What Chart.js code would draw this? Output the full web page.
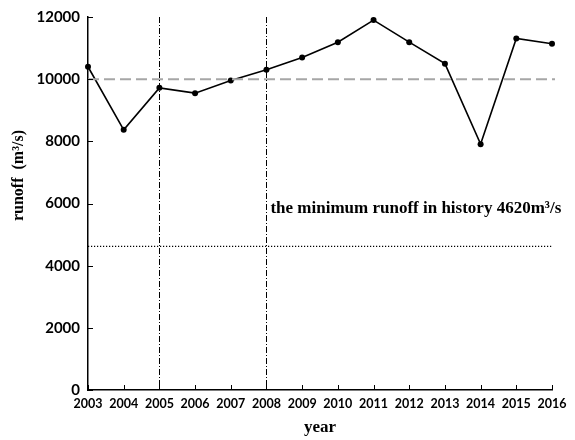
<!DOCTYPE html>
<html>
<head>
<meta charset="utf-8">
<script src="https://cdn.jsdelivr.net/npm/chart.js@4/dist/chart.umd.min.js"></script>
<style>
  html, body { margin: 0; padding: 0; background: #fff; }
  #wrap { width: 575px; height: 440px; }
</style>
</head>
<body>
<div id="wrap"><canvas id="c" width="575" height="440"></canvas></div>
<script>
// Annual runoff series (m³/s)
const years = ['2003','2004','2005','2006','2007','2008','2009','2010','2011','2012','2013','2014','2015','2016'];
const runoff = [10400, 8370, 9720, 9550, 9960, 10300, 10700, 11190, 11900, 11190, 10500, 7910, 11310, 11140];
const yTicks = [0, 2000, 4000, 6000, 8000, 10000, 12000];

// Reference levels and marked years
const meanRunoff = 10000;
const minRunoff = 4620;
const markedYears = ['2005', '2008'];
const minLabel = 'the minimum runoff in history 4620m³/s';
const xTitle = 'year';
const yTitle = 'runoff  (m³/s)';

const tickFont = 'Lato';
const serif = '"Liberation Serif", "Times New Roman", serif';

// Reference lines, inner tick marks and axis titles
const overlay = {
  id: 'overlay',
  afterDatasetsDraw(chart) {
    const { ctx, chartArea: a, scales: { x, y } } = chart;
    ctx.save();

    // long-term mean (grey dashed)
    const ym = y.getPixelForValue(meanRunoff);
    ctx.strokeStyle = '#a6a6a6';
    ctx.lineWidth = 2;
    ctx.setLineDash([11, 5]);
    ctx.beginPath();
    ctx.moveTo(a.left, ym);
    ctx.lineTo(a.right + 3, ym);
    ctx.stroke();

    // historical minimum (dotted)
    const yMin = y.getPixelForValue(minRunoff);
    ctx.strokeStyle = '#000';
    ctx.lineWidth = 1.3;
    ctx.setLineDash([1.2, 1.8]);
    ctx.beginPath();
    ctx.moveTo(a.left, yMin);
    ctx.lineTo(a.right + 1, yMin);
    ctx.stroke();

    // marked years (dash-dot verticals)
    ctx.lineWidth = 1;
    ctx.setLineDash([6, 2, 1, 2]);
    markedYears.forEach(v => {
      const px = Math.round(x.getPixelForValue(years.indexOf(v))) + 0.5;
      ctx.beginPath();
      ctx.moveTo(px, a.top);
      ctx.lineTo(px, a.bottom);
      ctx.stroke();
    });
    ctx.setLineDash([]);

    // inner tick marks
    ctx.lineWidth = 1;
    ctx.strokeStyle = '#000';
    yTicks.forEach(v => {
      const py = Math.round(y.getPixelForValue(v)) + 0.5;
      ctx.beginPath();
      ctx.moveTo(a.left, py);
      ctx.lineTo(a.left + 5, py);
      ctx.stroke();
    });
    years.forEach((v, i) => {
      const px = Math.round(x.getPixelForValue(i)) + 0.5;
      ctx.beginPath();
      ctx.moveTo(px, a.bottom);
      ctx.lineTo(px, a.bottom - 5);
      ctx.stroke();
    });

    // minimum-runoff note
    ctx.fillStyle = '#000';
    ctx.font = 'bold 17px ' + serif;
    ctx.textAlign = 'left';
    ctx.textBaseline = 'alphabetic';
    ctx.fillText(minLabel, x.getPixelForValue(years.indexOf('2008')) + 4, yMin - 33);

    // axis titles
    ctx.font = 'bold 17px ' + serif;
    ctx.textAlign = 'center';
    ctx.textBaseline = 'middle';
    ctx.fillText(xTitle, (a.left + a.right) / 2, 428);

    ctx.font = 'bold 16px ' + serif;
    ctx.translate(19, a.top + (a.bottom - a.top) * 0.425);
    ctx.rotate(-Math.PI / 2);
    ctx.fillText(yTitle, 0, 0);
    ctx.restore();
  }
};

new Chart(document.getElementById('c'), {
  type: 'line',
  data: {
    labels: years,
    datasets: [{
      data: runoff,
      borderColor: '#000',
      borderWidth: 1.6,
      pointRadius: 3,
      pointBackgroundColor: '#000',
      pointBorderColor: '#000',
      pointBorderWidth: 0,
      tension: 0,
      fill: false
    }]
  },
  options: {
    responsive: false,
    animation: false,
    devicePixelRatio: 1,
    layout: { padding: { top: 14, right: 23, left: 0, bottom: 0 } },
    plugins: { legend: { display: false }, tooltip: { enabled: false } },
    scales: {
      x: {
        type: 'category',
        offset: false,
        grid: { display: true, drawOnChartArea: false, drawTicks: false },
        border: { display: true, color: '#000', width: 1.5 },
        ticks: {
          color: '#000',
          font: { family: tickFont, weight: 'bold', size: 12.5 },
          padding: 6,
          maxRotation: 0,
          autoSkip: false
        },
        afterFit(s) { s.height = 50; }
      },
      y: {
        min: 0,
        max: 12000,
        grid: { display: true, drawOnChartArea: false, drawTicks: false },
        border: { display: true, color: '#000', width: 1.5 },
        ticks: {
          stepSize: 2000,
          color: '#000',
          font: { family: tickFont, weight: 'bold', size: 15 },
          padding: 8,
          callback: v => String(v)
        },
        afterBuildTicks(s) { s.ticks = yTicks.map(v => ({ value: v })); },
        afterFit(s) { s.width = 88; }
      }
    }
  },
  plugins: [overlay]
});
</script>
</body>
</html>
